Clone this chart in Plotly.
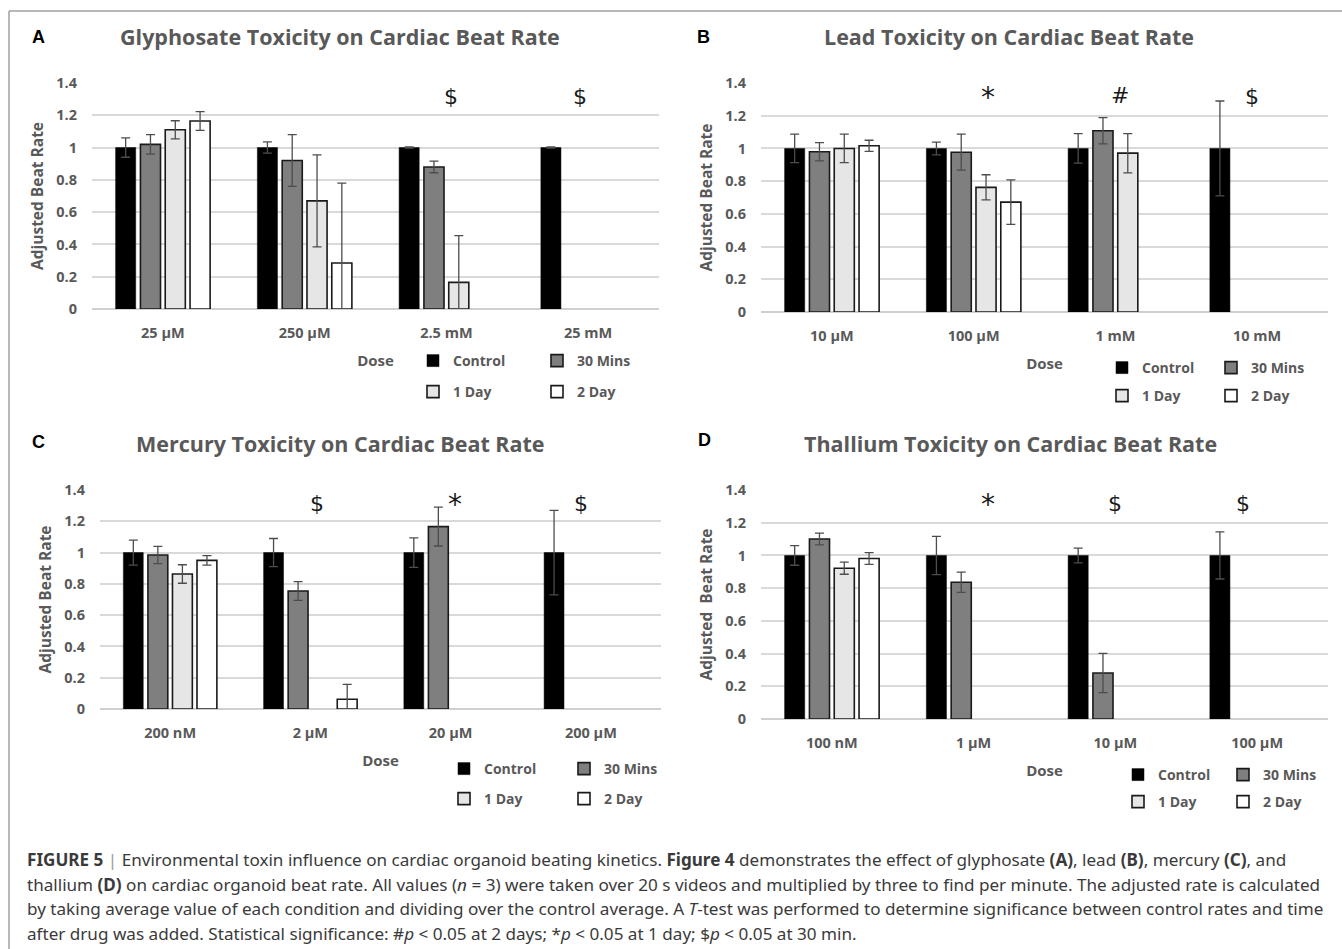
import plotly.graph_objects as go

W, H = 1342, 949

# ---------------- data ----------------
series_names = ["Control", "30 Mins", "1 Day", "2 Day"]

gly_doses = ["25 µM", "250 µM", "2.5 mM", "25 mM"]
gly_control = [1.00, 1.00, 1.00, 1.00]
gly_control_err = [0.06, 0.035, 0.004, 0.004]
gly_30min = [1.02, 0.92, 0.88, 0]
gly_30min_err = [0.06, 0.16, 0.036, 0]
gly_1day = [1.11, 0.67, 0.165, 0]
gly_1day_err = [0.056, 0.285, 0.29, 0]
gly_2day = [1.165, 0.285, 0, 0]
gly_2day_err = [0.058, 0.495, 0, 0]
gly_sig = ["", "", "$", "$"]

lead_doses = ["10 µM", "100 µM", "1 mM", "10 mM"]
lead_control = [1.00, 1.00, 1.00, 1.00]
lead_control_err = [0.087, 0.039, 0.09, 0.29]
lead_30min = [0.98, 0.977, 1.108, 0]
lead_30min_err = [0.056, 0.11, 0.08, 0]
lead_1day = [1.00, 0.762, 0.971, 0]
lead_1day_err = [0.087, 0.077, 0.12, 0]
lead_2day = [1.016, 0.672, 0, 0]
lead_2day_err = [0.034, 0.136, 0, 0]
lead_sig = ["", "*", "#", "$"]

hg_doses = ["200 nM", "2 µM", "20 µM", "200 µM"]
hg_control = [1.00, 1.00, 1.00, 1.00]
hg_control_err = [0.08, 0.09, 0.094, 0.27]
hg_30min = [0.984, 0.754, 1.166, 0]
hg_30min_err = [0.055, 0.06, 0.124, 0]
hg_1day = [0.863, 0, 0, 0]
hg_1day_err = [0.059, 0, 0, 0]
hg_2day = [0.95, 0.062, 0, 0]
hg_2day_err = [0.03, 0.096, 0, 0]
hg_sig = ["", "$", "*", "$"]

tl_doses = ["100 nM", "1 µM", "10 µM", "100 µM"]
tl_control = [1.00, 1.00, 1.00, 1.00]
tl_control_err = [0.06, 0.117, 0.045, 0.144]
tl_30min = [1.10, 0.836, 0.281, 0]
tl_30min_err = [0.036, 0.062, 0.12, 0]
tl_1day = [0.922, 0, 0, 0]
tl_1day_err = [0.037, 0, 0, 0]
tl_2day = [0.981, 0, 0, 0]
tl_2day_err = [0.036, 0, 0, 0]
tl_sig = ["", "*", "$", "$"]

# ---------------- styles ----------------
FONT = "Open Sans"
GREY_TXT = "#595959"
fills = ["#000000", "#7f7f7f", "#e6e6e6", "#ffffff"]
edges = ["#000000", "#1a1a1a", "#1a1a1a", "#1a1a1a"]
edge_w = [0.5, 1.6, 1.6, 1.6]

def px_x(v):
    return v / W

def px_y(v):
    return 1 - v / H

panels = [
    dict(letter="A", title="Glyphosate Toxicity on Cardiac Beat Rate",
         doses=gly_doses,
         vals=[gly_control, gly_30min, gly_1day, gly_2day],
         errs=[gly_control_err, gly_30min_err, gly_1day_err, gly_2day_err],
         sig=gly_sig, sig_dx=[0, 0, 0.03, -0.06],
         xl=92, xr=659, yt=83, yb=309, title_c=(340, 37), letter_c=(38, 37),
         ytitle="Adjusted Beat Rate",
         leg_x=413, leg_y=(361, 392), entry=79),
    dict(letter="B", title="Lead Toxicity on Cardiac Beat Rate",
         doses=lead_doses,
         vals=[lead_control, lead_30min, lead_1day, lead_2day],
         errs=[lead_control_err, lead_30min_err, lead_1day_err, lead_2day_err],
         sig=lead_sig, sig_dx=[0, 0.1, 0.035, -0.035],
         xl=761, xr=1328, yt=83, yb=312, title_c=(1009, 37), letter_c=(703, 37),
         ytitle="Adjusted Beat Rate",
         leg_x=1102, leg_y=(368, 396), entry=64),
    dict(letter="C", title="Mercury Toxicity on Cardiac Beat Rate",
         doses=hg_doses,
         vals=[hg_control, hg_30min, hg_1day, hg_2day],
         errs=[hg_control_err, hg_30min_err, hg_1day_err, hg_2day_err],
         sig=hg_sig, sig_dx=[0, 0.05, 0.03, -0.07],
         xl=100, xr=661, yt=490, yb=709, title_c=(340, 443), letter_c=(38, 442),
         ytitle="Adjusted Beat Rate",
         leg_x=444, leg_y=(769, 799), entry=75),
    dict(letter="D", title="Thallium Toxicity on Cardiac Beat Rate",
         doses=tl_doses,
         vals=[tl_control, tl_30min, tl_1day, tl_2day],
         errs=[tl_control_err, tl_30min_err, tl_1day_err, tl_2day_err],
         sig=tl_sig, sig_dx=[0, 0.1, 0.0, -0.1],
         xl=761, xr=1328, yt=490, yb=719, title_c=(1010, 443), letter_c=(704, 440),
         ytitle="Adjusted\u00a0 Beat Rate",
         leg_x=1118, leg_y=(775, 802), entry=60),
]

sig_y = {"$": 1.315, "*": 1.31, "#": 1.325}
sig_size = {"$": 22, "*": 28, "#": 22}

fig = go.Figure()
layout = dict(
    width=W, height=H, autosize=False,
    margin=dict(l=0, r=0, t=0, b=0),
    paper_bgcolor="white", plot_bgcolor="white",
    barmode="group", bargap=0.3, bargroupgap=0.19,
    font=dict(family=FONT, color=GREY_TXT),
)
annotations = []

for p, pn in enumerate(panels):
    n = "" if p == 0 else str(p + 1)
    leg_a = "legend" if p == 0 else f"legend{2 * p + 1}"
    leg_b = f"legend{2 * p + 2}"
    for s in range(4):
        vals = pn["vals"][s]
        fig.add_trace(go.Bar(
            x=pn["doses"],
            y=[v if v > 0 else None for v in vals],
            name=series_names[s],
            legend=leg_a if s < 2 else leg_b,
            xaxis="x" + n, yaxis="y" + n,
            marker=dict(color=fills[s], line=dict(color=edges[s], width=edge_w[s])),
            error_y=dict(type="data", array=pn["errs"][s], symmetric=True,
                         color="#4d4d4d", thickness=1.3, width=4.5),
            hoverinfo="x+y+name",
        ))
    layout["xaxis" + n] = dict(
        domain=[px_x(pn["xl"]), px_x(pn["xr"])],
        anchor="y" + n, type="category",
        showgrid=False, showline=False, zeroline=False, ticks="",
        tickfont=dict(family=FONT, size=14.5, color=GREY_TXT, weight="bold"),
        ticklabelstandoff=13,
        title=dict(text="Dose", standoff=14,
                   font=dict(family=FONT, size=15, color=GREY_TXT, weight="bold")),
        automargin=False, fixedrange=True,
    )
    layout["yaxis" + n] = dict(
        domain=[px_y(pn["yb"]), px_y(pn["yt"])],
        anchor="x" + n, range=[0, 1.4], dtick=0.2, tick0=0,
        showgrid=True, gridcolor="#d9d9d9", gridwidth=1.5,
        zeroline=True, zerolinecolor="#d0d0d0", zerolinewidth=1.5,
        showline=False, ticks="",
        tickfont=dict(family=FONT, size=14.5, color=GREY_TXT, weight="bold"),
        ticklabelstandoff=14,
        title=dict(text=pn["ytitle"], standoff=8,
                   font=dict(family=FONT, size=15.5, color=GREY_TXT, weight="bold")),
        automargin=False, fixedrange=True,
    )
    leg_common = dict(
        orientation="h", xanchor="left", yanchor="middle",
        x=px_x(pn["leg_x"]), bgcolor="rgba(0,0,0,0)",
        entrywidth=pn["entry"], entrywidthmode="pixels",
        font=dict(family=FONT, size=14, color=GREY_TXT, weight="bold"),
        itemclick=False, itemdoubleclick=False, traceorder="normal",
    )
    layout[leg_a] = dict(leg_common, y=px_y(pn["leg_y"][0]))
    layout[leg_b] = dict(leg_common, y=px_y(pn["leg_y"][1]))

    # panel title and letter
    annotations.append(dict(
        text=pn["title"], xref="paper", yref="paper",
        x=px_x(pn["title_c"][0]), y=px_y(pn["title_c"][1]),
        xanchor="center", yanchor="middle", showarrow=False,
        font=dict(family=FONT, size=21.5, color=GREY_TXT, weight="bold")))
    annotations.append(dict(
        text=pn["letter"], xref="paper", yref="paper",
        x=px_x(pn["letter_c"][0]), y=px_y(pn["letter_c"][1]),
        xanchor="center", yanchor="middle", showarrow=False,
        font=dict(family="Liberation Sans", size=18, color="#000000", weight="bold")))
    # significance markers
    for i, mark in enumerate(pn["sig"]):
        if not mark:
            continue
        annotations.append(dict(
            text=mark, xref="x" + n, yref="y" + n,
            x=i + pn["sig_dx"][i], y=sig_y[mark],
            xanchor="center", yanchor="middle", showarrow=False,
            font=dict(family="DejaVu Sans", size=sig_size[mark], color="#1a1a1a")))

# caption
caption_lines = [
    "<b>FIGURE 5</b> <span style='color:#9a9a9a'>|</span> Environmental toxin influence on cardiac organoid beating kinetics. "
    "<b>Figure 4</b> demonstrates the effect of glyphosate <b>(A)</b>, lead <b>(B)</b>, mercury <b>(C)</b>, and",
    "thallium <b>(D)</b> on cardiac organoid beat rate. All values (<i>n</i> = 3) were taken over 20 s videos "
    "and multiplied by three to find per minute. The adjusted rate is calculated",
    "by taking average value of each condition and dividing over the control average. A <i>T</i>-test "
    "was performed to determine significance between control rates and time",
    "after drug was added. Statistical significance: #<i>p</i> &lt; 0.05 at 2 days; *<i>p</i> &lt; 0.05 "
    "at 1 day; $<i>p</i> &lt; 0.05 at 30 min.",
]
caption_y = [859, 884, 908, 933]
for line, yy in zip(caption_lines, caption_y):
    annotations.append(dict(
        text=line, xref="paper", yref="paper", x=px_x(25), y=px_y(yy),
        xanchor="left", yanchor="middle", showarrow=False, align="left",
        font=dict(family="Noto Sans", size=17.1, color="#3a3a3a")))

layout["annotations"] = annotations
layout["shapes"] = [
    dict(type="line", xref="paper", yref="paper", x0=px_x(9), x1=1.0,
         y0=px_y(11), y1=px_y(11), line=dict(color="#a0a0a0", width=1.5)),
    dict(type="line", xref="paper", yref="paper", x0=px_x(9), x1=px_x(9),
         y0=px_y(11), y1=0.0, line=dict(color="#a0a0a0", width=1.5)),
]
fig.update_layout(**layout)
fig.write_html("out.html", config={"displayModeBar": False},
               post_script="document.body.style.margin='0px';")
